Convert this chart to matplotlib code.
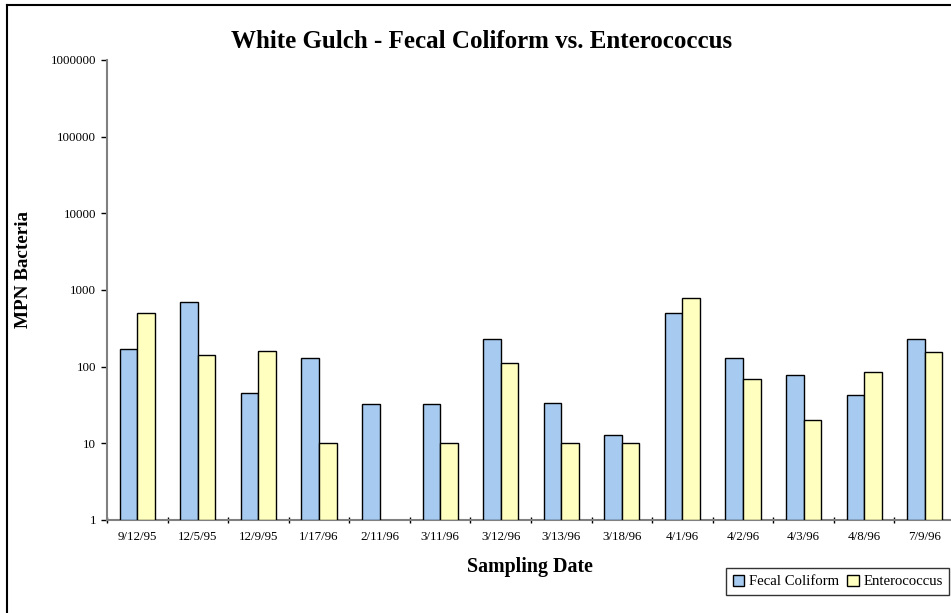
import matplotlib
matplotlib.use("Agg")
import matplotlib.pyplot as plt
import numpy as np
from matplotlib.lines import Line2D
from matplotlib.ticker import FixedLocator, FixedFormatter

dates = ["9/12/95", "12/5/95", "12/9/95", "1/17/96", "2/11/96", "3/11/96", "3/12/96",
         "3/13/96", "3/18/96", "4/1/96", "4/2/96", "4/3/96", "4/8/96", "7/9/96"]
fecal_coliform = [172, 700, 46, 130, 33, 33, 230, 34, 13, 500, 130, 79, 43, 230]
enterococcus = [500, 140, 160, 10, np.nan, 10, 110, 10, 10, 780, 70, 20, 85, 156]
y_ticks = [1, 10, 100, 1000, 10000, 100000, 1000000]

W, H = 951, 613
plt.rcParams["font.family"] = ["Liberation Serif", "DejaVu Serif"]
fig = plt.figure(figsize=(W / 100, H / 100), dpi=100)

# plot area in pixel coordinates
x0, x1, y_top, y_bot = 107, 955, 60, 520
ax = fig.add_axes([x0 / W, (H - y_bot) / H, (x1 - x0) / W, (y_bot - y_top) / H])

n = len(dates)
idx = np.arange(n)
bw = 0.29
blue = "#a6caf0"
yellow = "#ffffc0"

fc = np.array(fecal_coliform, dtype=float)
en = np.array(enterococcus, dtype=float)

b1 = ax.bar(idx - bw / 2, fc - 1, width=bw, bottom=1, color=blue,
            edgecolor="black", linewidth=1.0, label="Fecal Coliform", zorder=3)
b2 = ax.bar(idx + bw / 2, en - 1, width=bw, bottom=1, color=yellow,
            edgecolor="black", linewidth=1.0, label="Enterococcus", zorder=3)

ax.set_yscale("log")
ax.set_ylim(1, 1e6)
ax.set_xlim(-0.5, n - 0.5)
ax.yaxis.set_major_locator(FixedLocator(y_ticks))
ax.yaxis.set_major_formatter(FixedFormatter([str(v) for v in y_ticks]))
ax.yaxis.set_minor_locator(FixedLocator([]))

ax.set_xticks(idx)
ax.set_xticklabels(dates)
ax.set_xticks(np.arange(n + 1) - 0.5, minor=True)
ax.tick_params(axis="x", which="major", length=0, labelsize=9.4, pad=8)
ax.tick_params(axis="x", which="minor", length=5, width=1, color="black", direction="inout")
ax.tick_params(axis="y", which="major", length=4, width=1, color="black", labelsize=9.4, pad=4)

for s in ("top", "right"):
    ax.spines[s].set_visible(False)
for s in ("left", "bottom"):
    ax.spines[s].set_color("#808080")
    ax.spines[s].set_linewidth(1.5)

fig.text(482 / W, 1 - 42 / H, "White Gulch - Fecal Coliform vs. Enterococcus",
         ha="center", va="center", fontsize=18, fontweight="bold")
fig.text(530 / W, 1 - 567 / H, "Sampling Date", ha="center", va="center",
         fontsize=14.4, fontweight="bold")
fig.text(24 / W, 1 - 270 / H, "MPN Bacteria", ha="center", va="center",
         rotation=90, fontsize=13.8, fontweight="bold")

leg = fig.legend(handles=[b1, b2], loc="upper left",
                 bbox_to_anchor=(726 / W, 1 - 568 / H), ncol=2, frameon=True,
                 fancybox=False, fontsize=10.6, handlelength=0.8, handleheight=0.8,
                 handletextpad=0.3, columnspacing=0.55, borderpad=0.45,
                 borderaxespad=0)
leg.get_frame().set_edgecolor("black")
leg.get_frame().set_linewidth(1.0)

# chart-area border
fig.add_artist(Line2D([7 / W, 7 / W], [0, 1 - 5 / H], color="black", linewidth=1.5,
                      transform=fig.transFigure))
fig.add_artist(Line2D([7 / W, 1], [1 - 5 / H, 1 - 5 / H], color="black", linewidth=1.5,
                      transform=fig.transFigure))

fig.savefig("out.png", dpi=100)
